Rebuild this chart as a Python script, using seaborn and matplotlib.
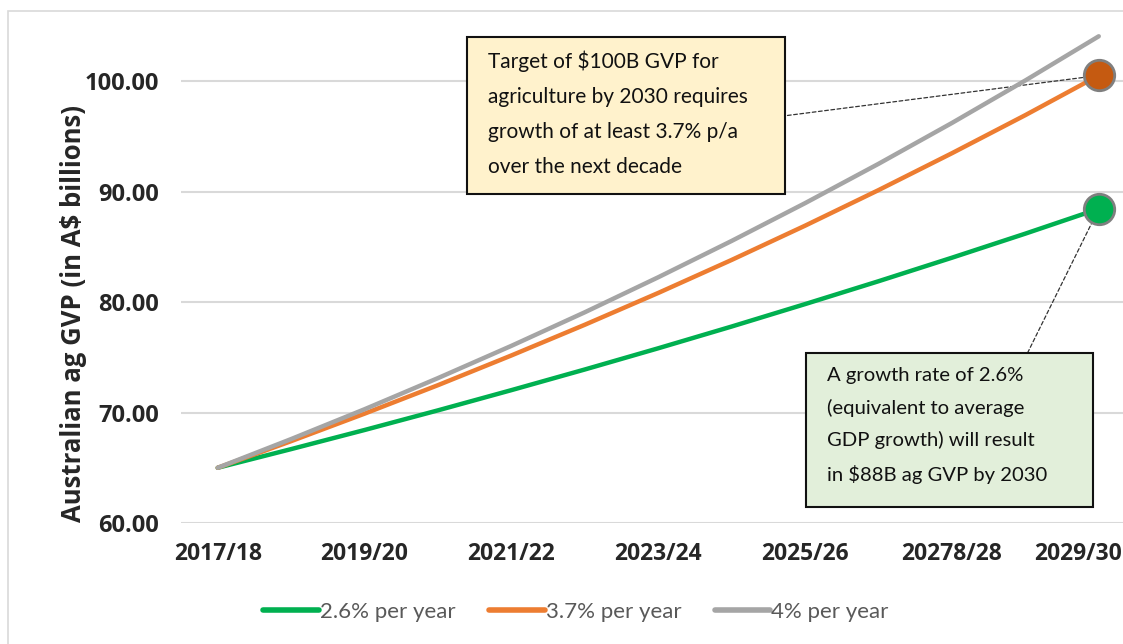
import matplotlib
matplotlib.use("Agg")
import matplotlib.pyplot as plt
import matplotlib.transforms as mtransforms
import seaborn as sns
import pandas as pd
from matplotlib.patches import Rectangle
from matplotlib.lines import Line2D

years = ["2017/18", "2018/19", "2019/20", "2020/21", "2021/22", "2022/23", "2023/24",
         "2024/25", "2025/26", "2026/27", "20278/28", "2028/29", "2029/30"]
tick_labels = ["2017/18", "2019/20", "2021/22", "2023/24", "2025/26", "20278/28", "2029/30"]
series_names = ["2.6% per year", "3.7% per year", "4% per year"]
g26 = [65.00, 66.69, 68.42, 70.20, 72.03, 73.90, 75.82, 77.79, 79.82, 81.89, 84.02, 86.20, 88.45]
g37 = [65.00, 67.41, 69.90, 72.48, 75.17, 77.95, 80.83, 83.82, 86.92, 90.14, 93.48, 96.93, 100.52]
g40 = [65.00, 67.60, 70.30, 73.12, 76.04, 79.08, 82.25, 85.54, 88.96, 92.52, 96.22, 100.07, 104.07]
y_ticks = [60, 70, 80, 90, 100]

sns.set_theme(style="white")
plt.rcParams['font.family'] = ['Lato', 'DejaVu Sans']
BOLD = ['Open Sans', 'DejaVu Sans']

rows = []
for name, vals in zip(series_names, [g26, g37, g40]):
    for i, v in enumerate(vals):
        rows.append({"idx": i, "year": years[i], "value": v, "series": name})
df = pd.DataFrame(rows)

colors = {"2.6% per year": "#00B050", "3.7% per year": "#ED7D31", "4% per year": "#A5A5A5"}

W, H = 1123, 644
fig = plt.figure(figsize=(W / 100, H / 100), dpi=100)
ax = fig.add_axes([181 / W, (H - 523) / H, 942 / W, (523 - 26) / H])

for y in y_ticks:
    ax.axhline(y, color="#D9D9D9", lw=1.5, zorder=0)

sns.lineplot(data=df, x="idx", y="value", hue="series", palette=colors, lw=3.2,
             ax=ax, legend=False, zorder=3)
for l in ax.get_lines()[len(y_ticks):]:
    l.set_solid_capstyle("round")

ax.scatter([12], [g37[-1]], s=480, color="#C55A11", edgecolor="#7F7F7F", linewidth=2, zorder=5)
ax.scatter([12], [g26[-1]], s=480, color="#00B050", edgecolor="#7F7F7F", linewidth=2, zorder=5)

ax.set_xlim(-0.5, 12.33)
ax.set_ylim(60, 105)
ax.set_yticks(y_ticks)
ax.set_yticklabels([f"{v:.2f}" for v in y_ticks], fontsize=17, fontweight="bold", family=BOLD)
ax.set_xticks(list(range(0, 13, 2)))
ax.set_xticklabels(tick_labels, fontsize=16.5, fontweight="bold", family=BOLD)
ax.tick_params(axis="x", length=0, pad=14)
ax.tick_params(axis="y", length=0, pad=16)
last = ax.get_xticklabels()[-1]
last.set_transform(last.get_transform() + mtransforms.ScaledTranslation(-0.21, 0, fig.dpi_scale_trans))
ax.set_xlabel("")
ax.set_ylabel("Australian ag GVP (in A$ billions)", fontsize=18.5, fontweight="bold", family=BOLD)
ax.yaxis.set_label_coords(-0.10, 0.422)
for s in ax.spines.values():
    s.set_visible(False)

# leader lines
ax.annotate("", xy=(12, g37[-1]), xytext=(7.76, 96.9),
            arrowprops=dict(arrowstyle="-", ls=(0, (3, 2)), color="#333333", lw=0.9,
                            shrinkA=0, shrinkB=0), zorder=2)
ax.annotate("", xy=(12, g26[-1]), xytext=(11.03, 75.4),
            arrowprops=dict(arrowstyle="-", ls=(0, (3, 2)), color="#333333", lw=0.9,
                            shrinkA=0, shrinkB=0), zorder=2)

fig.text(488 / W, 1 - 50 / H,
         "Target of $100B GVP for\nagriculture by 2030 requires\ngrowth of at least 3.7% p/a\nover the next decade",
         fontsize=15, va="top", ha="left", linespacing=1.95, color="#111111", zorder=10)
fig.patches.append(Rectangle((467 / W, 1 - 194 / H), (785 - 467) / W, (194 - 37) / H,
                             transform=fig.transFigure, facecolor="#FFF2CC", edgecolor="#111111",
                             lw=1.5, zorder=8))

fig.text(827 / W, 1 - 367 / H,
         "A growth rate of 2.6%\n(equivalent to average\nGDP growth) will result\nin $88B ag GVP by 2030",
         fontsize=14.6, va="top", ha="left", linespacing=1.97, color="#111111", zorder=10)
fig.patches.append(Rectangle((806 / W, 1 - 507 / H), (1093 - 806) / W, (507 - 353) / H,
                             transform=fig.transFigure, facecolor="#E2EFDA", edgecolor="#111111",
                             lw=1.5, zorder=8))

# outer chart border
fig.patches.append(Rectangle((8 / W, -0.1), 1.2, 1.1 - 11 / H,
                             transform=fig.transFigure, facecolor="none", edgecolor="#D9D9D9",
                             lw=1.2, zorder=1))

handles = [Line2D([0], [0], color=colors[n], lw=4, solid_capstyle="round") for n in series_names]
fig.legend(handles, series_names, loc="center", bbox_to_anchor=(576 / W, 1 - 612 / H), ncol=3,
           frameon=False, fontsize=16, handlelength=2.5, handletextpad=0.05, columnspacing=1.5,
           labelcolor="#595959")

fig.savefig("out.png", dpi=100)
